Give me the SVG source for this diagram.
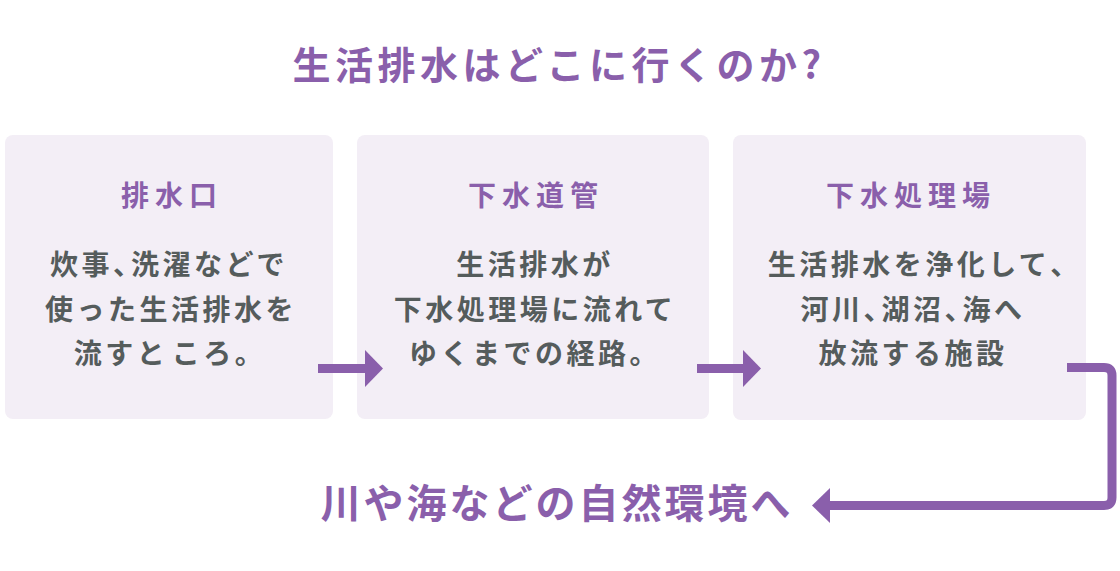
<svg xmlns="http://www.w3.org/2000/svg" width="1120" height="571" viewBox="0 0 1120 571">
  <style>
    text { font-family: "Noto Sans CJK JP", "Noto Sans CJK SC", sans-serif; text-anchor: middle; }
    .title { font-size: 38px; font-weight: 700; fill: #8a5fab; letter-spacing: 4.5px; }
    .end { font-size: 40px; font-weight: 700; fill: #8a5fab; letter-spacing: 3px; }
    .head { font-size: 28px; font-weight: 700; fill: #8a5fab; letter-spacing: 6px; }
    .body { font-size: 28px; font-weight: 700; fill: #555c5c; letter-spacing: 3.5px; }
    .p { letter-spacing: -10px; }
    .sp { letter-spacing: -3px; }
    .box { fill: #f3eef6; }
    .line { fill: none; stroke: #8a5fab; stroke-width: 9; }
    .head-arrow { fill: #8a5fab; }
  </style>
  <rect width="1120" height="571" fill="#ffffff"/>
  <g id="title">
    <text class="title" x="559" y="79">生活排水はどこに行くのか?</text>
  </g>
  <g id="node-haisuiguchi">
    <rect class="box" x="5" y="135" width="328" height="284" rx="8"/>
    <text class="head" x="172" y="206">排水口</text>
    <text class="body" x="169" y="275">炊事<tspan class="p">、</tspan>洗濯などで</text>
    <text class="body" x="171" y="320">使った生活排水を</text>
    <text class="body" x="170" y="364">流すと<tspan class="sp"> </tspan>ころ。</text>
  </g>
  <g id="node-gesuidoukan">
    <rect class="box" x="357" y="135" width="352" height="284" rx="8"/>
    <text class="head" x="536" y="206">下水道管</text>
    <text class="body" x="535" y="275">生活排水が</text>
    <text class="body" x="535" y="320">下水処理場に流れて</text>
    <text class="body" x="535" y="364">ゆくまでの経路。</text>
  </g>
  <g id="node-shorijou">
    <rect class="box" x="733" y="135" width="353" height="285" rx="8"/>
    <text class="head" x="911" y="206">下水処理場</text>
    <text class="body" x="918" y="275">生活排水を浄化して<tspan class="p">、</tspan></text>
    <text class="body" x="913" y="320">河川<tspan class="p">、</tspan>湖沼<tspan class="p">、</tspan>海へ</text>
    <text class="body" x="913" y="364">放流する施設</text>
  </g>
  <g id="node-shizen">
    <text class="end" x="557" y="518">川や海などの自然環境へ</text>
  </g>
  <g id="connectors">
    <path class="line" d="M318,368.5 H367"/>
    <polygon class="head-arrow" points="365,350 383,368.5 365,387"/>
    <path class="line" d="M697,368.5 H745"/>
    <polygon class="head-arrow" points="743,350 761,368.5 743,387"/>
    <path class="line" d="M1067,367.5 H1104 Q1112,367.5 1112,375.5 V497.5 Q1112,505.5 1104,505.5 H828"/>
    <polygon class="head-arrow" points="830,488 812,505.5 830,523"/>
  </g>
</svg>
